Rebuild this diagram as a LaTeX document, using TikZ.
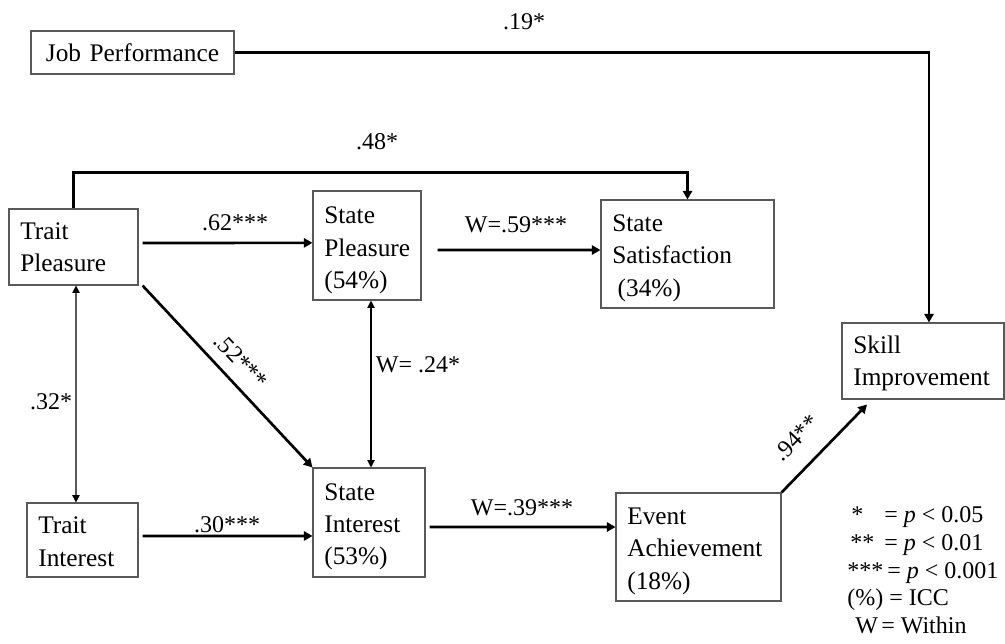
\documentclass[tikz,border=0pt]{standalone}
\usepackage{fontspec}
\setmainfont{Liberation Serif}
\usetikzlibrary{arrows.meta,calc}
\newcommand{\toppad}[1]{\rule{0pt}{#1}}
\begin{document}
\begin{tikzpicture}[x=0.75pt,y=-0.75pt,
  box/.style={draw=black!65, line width=0.8pt, align=left, inner xsep=8.5pt, inner ysep=0pt, font=\fontsize{19}{24.2}\selectfont},
  conn/.style={line width=2pt, -{Triangle[length=6.5pt,width=7pt]}},
  thinconn/.style={line width=0.8pt, {Triangle[length=5.5pt,width=5.5pt]}-{Triangle[length=5.5pt,width=5.5pt]}},
  lbl/.style={font=\fontsize{18}{21}\selectfont, inner sep=0pt},
  leg/.style={font=\fontsize{18}{21}\selectfont, inner sep=0pt, anchor=base west}]
\path[use as bounding box] (0,0) rectangle (1005,643);

% boxes
\node[box, align=center, text width=135.25pt, minimum height=32.25pt] (jp) at (132.5,52.5) {Job Performance};
\node[box, text width=79.75pt, minimum height=57pt] (tp) at (73.5,247) {Trait\\Pleasure};
\node[box, text width=64pt, minimum height=81.75pt] (sp) at (367,245.5) {\toppad{20pt}State\\Pleasure\\(54\%)};
\node[box, text width=112.75pt, minimum height=81pt] (ss) at (687.5,254) {\toppad{19pt}State\\Satisfaction\\\hspace*{4pt}(34\%)};
\node[box, text width=104.5pt, minimum height=57pt] (sk) at (923,361) {\toppad{17pt}Skill\\Improvement};
\node[box, text width=66.25pt, minimum height=55.5pt] (ti) at (82.5,540) {\toppad{15pt}Trait\\Interest};
\node[box, text width=67pt, minimum height=81.75pt] (si) at (369,522.5) {\toppad{19pt}State\\Interest\\(53\%)};
\node[box, text width=106.75pt, minimum height=81pt] (ea) at (698.5,547) {\toppad{19pt}Event\\Achievement\\(18\%)};

% connectors
\draw[conn] (jp.east) -| ([xshift=4.5pt]sk.north);
\draw[conn] (tp.north) -- ++(0,-36) -| (ss.north);
\draw[conn] ([xshift=3pt,yshift=3pt]tp.east) -- ([yshift=2pt]sp.west);
\draw[conn] ([xshift=12pt,yshift=-3.4pt]sp.east) -- ([yshift=3pt]ss.west);
\draw[conn] ([xshift=3pt]tp.south east) -- (si.north west);
\draw[thinconn] ([xshift=3pt]sp.south) -- ([xshift=1.5pt]si.north);
\draw[thinconn] ([xshift=1.9pt]tp.south) -- ([xshift=-4.9pt]ti.north);
\draw[conn] ([xshift=3pt,yshift=3pt]ti.east) -- ([yshift=-10.1pt]si.west);
\draw[conn] ([xshift=3pt,yshift=-3.4pt]si.east) -- ([yshift=15pt]ea.west);
\draw[conn] (ea.north east) -- ([xshift=-42pt,yshift=-3.75pt]sk.south);

% labels
\node[lbl] (l19) at (524,22) {.19*};
\node[lbl] (l48) at (377,142) {.48*};
\node[lbl] (l62) at (235,223) {.62***};
\node[lbl] (l59) at (516,225) {W=.59***};
\node[lbl, rotate=-47] (l52) at (241,361) {.52***};
\node[lbl, rotate=46] (l94) at (796,438) {.94**};
\node[lbl] (l24) at (418,365) {W= .24*};
\node[lbl] (l32) at (51,402) {.32*};
\node[lbl] (l30) at (227,525) {.30***};
\node[lbl] (l39) at (522,508) {W=.39***};

% legend
\node[leg] (k1a) at (851,522) {*};
\node[leg] (k1b) at (884,522) {= \textit{p} < 0.05};
\node[leg] (k2a) at (850,550) {**};
\node[leg] (k2b) at (884,550) {= \textit{p} < 0.01};
\node[leg] (k3) at (847,578) {***\,= \textit{p} < 0.001};
\node[leg] (k4) at (847,605) {(\%) = ICC};
\node[leg] (k5a) at (855,633) {W};
\node[leg] (k5b) at (881,633) {= Within};
\end{tikzpicture}
\end{document}
